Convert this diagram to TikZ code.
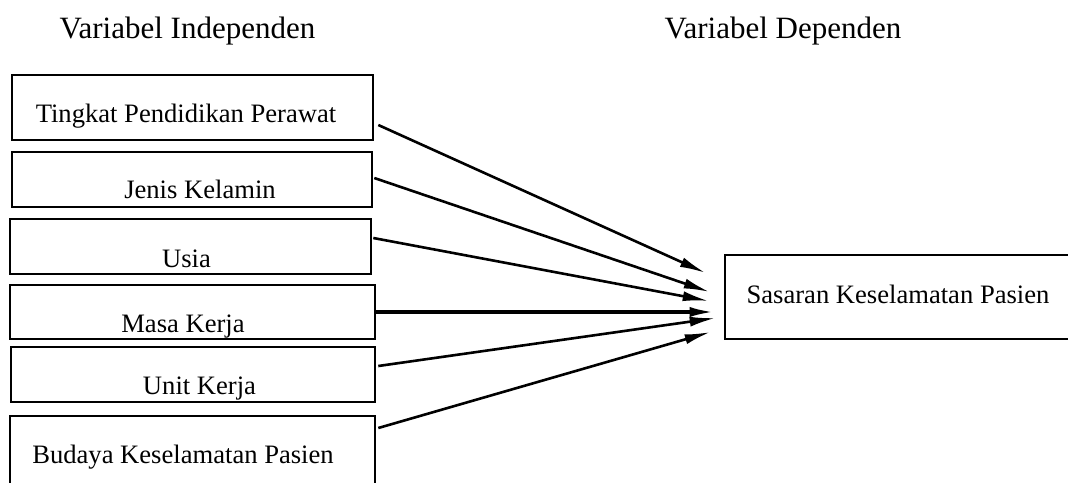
\documentclass[tikz,border=0pt]{standalone}
\usepackage{fontspec}
\setmainfont{Liberation Serif}
\usetikzlibrary{arrows.meta}

\tikzset{
  varbox/.style={draw, line width=2.6pt, rectangle, inner sep=0pt, minimum width=#1},
  lbl/.style={anchor=base, inner sep=0pt, font=\fontsize{26.6}{30}\selectfont},
  title/.style={anchor=base, inner sep=0pt, font=\fontsize{31}{34}\selectfont},
  arr/.style={line width=2.6pt, -{Latex[length=26pt,width=10pt]}},
  arrbold/.style={line width=3.8pt, -{Latex[length=26pt,width=10pt]}}
}

\begin{document}
\begin{tikzpicture}[x=1pt, y=-1pt]
  \clip (0,0) rectangle (1068,482);
  \fill[white] (0,0) rectangle (1068,482);

  % column headings
  \node[title] (hind) at (187.5,38) {Variabel Independen};
  \node[title] (hdep) at (783,38) {Variabel Dependen};

  % independent variable boxes
  \node[varbox=361pt, minimum height=65pt] (b1) at (192.5,107.5) {};
  \node[varbox=360pt, minimum height=55pt] (b2) at (192,179.5) {};
  \node[varbox=361pt, minimum height=55pt] (b3) at (190.5,246.5) {};
  \node[varbox=365pt, minimum height=54pt] (b4) at (192.5,312) {};
  \node[varbox=364pt, minimum height=55pt] (b5) at (193,374.5) {};
  \node[varbox=365pt, minimum height=84pt] (b6) at (192.5,458) {};

  \node[lbl] (t1) at (186,122) {Tingkat Pendidikan Perawat};
  \node[lbl] (t2) at (200,198) {Jenis Kelamin};
  \node[lbl] (t3) at (186.5,267) {Usia};
  \node[lbl] (t4) at (183,332) {Masa Kerja};
  \node[lbl] (t5) at (199.5,394) {Unit Kerja};
  \node[lbl] (t6) at (183,463) {Budaya Keselamatan Pasien};

  % dependent variable box
  \node[varbox=355pt, minimum height=84pt] (dep) at (902.5,297) {};
  \node[lbl] (td) at (898,303) {Sasaran Keselamatan Pasien};

  % influence arrows
  \draw[arr] ([shift={(4,17.5)}]b1.east) -- ([shift={(-18,-24)}]dep.west);
  \draw[arr] ([shift={(1,-1.5)}]b2.east) -- ([shift={(-14,-5)}]dep.west);
  \draw[arr] ([shift={(1,-8.5)}]b3.east) -- ([shift={(-15,4)}]dep.west);
  \draw[arrbold] (b4.east) -- ([shift={(-8,15)}]dep.west);
  \draw[arr] ([shift={(2,-8.5)}]b5.east) -- ([shift={(-8,21)}]dep.west);
  \draw[arr] ([shift={(2,-30)}]b6.east) -- ([shift={(-13,35)}]dep.west);
\end{tikzpicture}
\end{document}
